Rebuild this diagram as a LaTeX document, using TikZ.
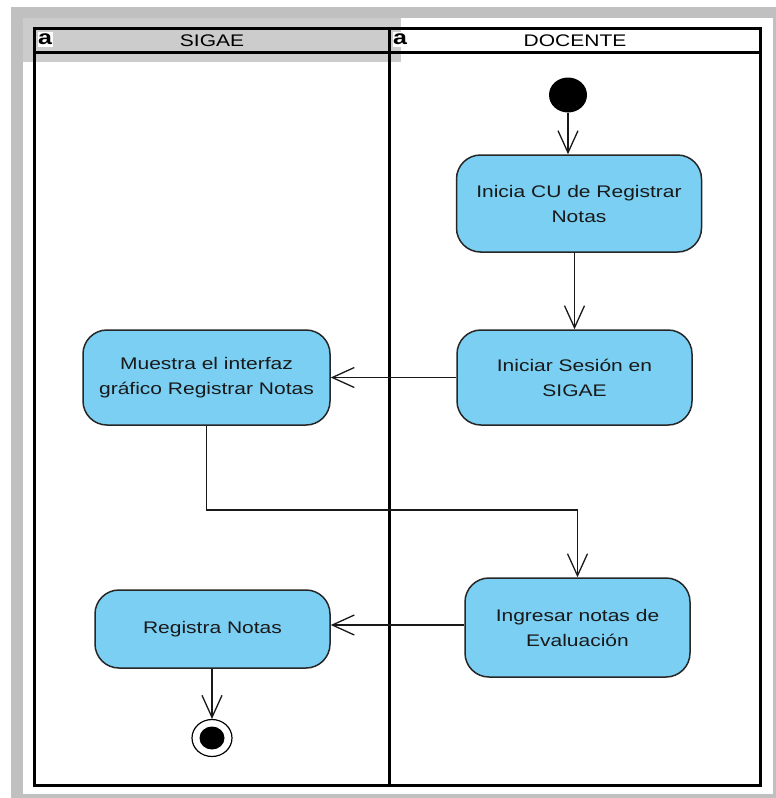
\documentclass[tikz,border=0pt]{standalone}
\usepackage{fontspec}
\setmainfont{Liberation Sans}[FakeStretch=1.25]
\usetikzlibrary{arrows.meta,shapes.geometric}
\definecolor{actfill}{RGB}{122,207,243}
\definecolor{outergray}{RGB}{192,192,192}
\definecolor{headgray}{RGB}{204,204,204}
\definecolor{inktext}{RGB}{25,25,25}
\tikzset{
  activity/.style={draw=black!85, line width=1.5pt, fill=actfill, rounded corners=24pt,
    align=center, inner sep=0pt, text=inktext,
    font=\fontsize{16.8}{25}\selectfont},
  flow/.style={line width=1.3pt, draw=black!90,
    -{Straight Barb[length=22pt,width=20pt,line width=1.3pt]}},
  lanetitle/.style={font=\fontsize{16.8}{20}\selectfont, text=black, inner sep=0pt},
  laneicon/.style={fill=white, inner sep=0pt, minimum width=15pt, minimum height=15pt,
    font=\bfseries\fontsize{20}{20}\selectfont},
  frameline/.style={line width=3pt, draw=black}
}
\begin{document}
\begin{tikzpicture}[x=1pt,y=-1pt]
\useasboundingbox (0,0) rectangle (776,798);
% page background and outer border
\fill[white] (0,0) rectangle (776,798);
\fill[outergray] (11,7) rectangle (776,798);
\fill[white] (23,18) rectangle (773,794);
\fill[headgray] (23,18) rectangle (401,62);

% swimlane frame
\draw[frameline] (34,28) rectangle (760,785);
\draw[frameline] (34,52) -- (760,52);
\draw[frameline] (389,28) -- (389,785);

% lane headers
\node[lanetitle] (lsigae) at (212,41) {SIGAE};
\node[lanetitle] (ldocente) at (575,41) {DOCENTE};
\node[laneicon] (isigae) at (45,39) {a};
\node[laneicon] (idocente) at (400,39) {a};

% initial node
\node[ellipse, fill=black, minimum width=38pt, minimum height=35pt, inner sep=0pt] (inicio) at (568,95) {};

% activities
\node[activity, minimum width=245pt, minimum height=97pt] (inicia) at (579,203.5)
  {Inicia CU de Registrar\\Notas};
\node[activity, minimum width=235pt, minimum height=95pt] (sesion) at (574.5,377.5)
  {Iniciar Sesión en\\SIGAE};
\node[activity, minimum width=247pt, minimum height=95pt] (muestra) at (206.5,377.5)
  {Muestra el interfaz\\gráfico Registrar Notas};
\node[activity, minimum width=225pt, minimum height=99pt] (ingresar) at (577.5,627.5)
  {Ingresar notas de\\Evaluación};
\node[activity, minimum width=235pt, minimum height=78pt] (registra) at (212.5,629)
  {Registra Notas};

% final node
\node[ellipse, draw=black, line width=1.2pt, fill=white, minimum width=40pt, minimum height=37pt, inner sep=0pt] (fin) at (212,738) {};
\node[ellipse, fill=black, minimum width=25pt, minimum height=23pt, inner sep=0pt] (finin) at (fin) {};

% control flows
\draw[flow] (inicio.south) -- (inicio.south |- inicia.north);
\draw[flow] (sesion.north |- inicia.south) -- (sesion.north);
\draw[flow] (sesion.west) -- (muestra.east);
\coordinate (codo) at (206.5,510);
\draw[flow] (muestra.south) -- (codo) -| (ingresar.north);
\draw[flow] (ingresar.west |- 0,625) -- (registra.east |- 0,625);
\draw[flow] (registra.south -| fin.north) -- (fin.north);
\end{tikzpicture}
\end{document}
